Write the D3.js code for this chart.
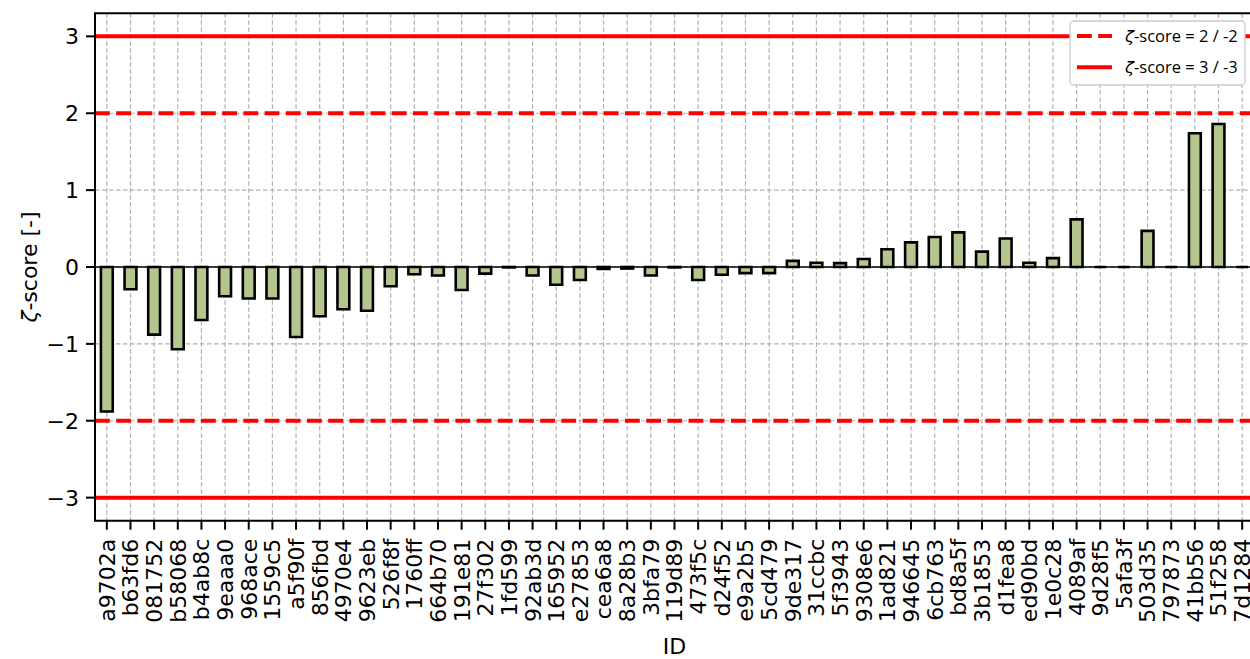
<!DOCTYPE html>
<html>
<head>
<meta charset="utf-8">
<script src="https://cdn.jsdelivr.net/npm/d3@7"></script>
<style>
  html, body { margin: 0; padding: 0; background: #fff; overflow: hidden; }
  svg { display: block; }
</style>
</head>
<body>
<svg id="chart" width="1250" height="659"></svg>
<script>
const ids = ["a9702a","b63fd6","081752","b58068","b4ab8c","9eaaa0","968ace","1559c5","a5f90f","856fbd",
  "4970e4","9623eb","526f8f","1760ff","664b70","191e81","27f302","1fd599","92ab3d","165952",
  "e27853","cea6a8","8a28b3","3bfa79","119d89","473f5c","d24f52","e9a2b5","5cd479","9de317",
  "31ccbc","5f3943","9308e6","1ad821","946645","6cb763","bd8a5f","3b1853","d1fea8","ed90bd",
  "1e0c28","4089af","9d28f5","5afa3f","503d35","797873","41bb56","51f258","7d1284"];
const zscores = [-1.88,-0.29,-0.88,-1.07,-0.69,-0.38,-0.41,-0.41,-0.91,-0.64,
  -0.55,-0.57,-0.25,-0.095,-0.11,-0.30,-0.086,-0.005,-0.11,-0.23,
  -0.17,-0.025,-0.02,-0.11,-0.005,-0.17,-0.10,-0.08,-0.08,0.08,
  0.055,0.05,0.105,0.23,0.32,0.39,0.45,0.20,0.37,0.055,
  0.115,0.62,0,0,0.47,0,1.74,1.86,0];
const yTicks = [-3,-2,-1,0,1,2,3];
const limitLines = [
  {value: 2, dashed: true}, {value: -2, dashed: true},
  {value: 3, dashed: false}, {value: -3, dashed: false}
];
const legendItems = [
  {label: " = 2 / -2", dashed: true},
  {label: " = 3 / -3", dashed: false}
];

const svg = d3.select("#chart");
const L = 95, R = 1254, T = 13.3, B = 520.7;

const x = d3.scaleBand().domain(ids).range([L, R]).padding(0);
const y = d3.scaleLinear().domain([-3.3, 3.3]).range([B, T]);
const bw = x.bandwidth();
const cx = d => x(d) + bw / 2;

svg.append("rect").attr("width", 1250).attr("height", 659).attr("fill", "#fff");

// grid
const grid = svg.append("g").attr("stroke", "#b0b0b0").attr("stroke-width", 1.2)
  .attr("stroke-dasharray", "4.5,2.5");
grid.selectAll(".gx").data(ids).enter().append("line")
  .attr("x1", d => cx(d)).attr("x2", d => cx(d)).attr("y1", T).attr("y2", B);
grid.selectAll(".gy").data(yTicks).enter().append("line")
  .attr("x1", L).attr("x2", R).attr("y1", d => y(d)).attr("y2", d => y(d));

// zero line
svg.append("line").attr("x1", L).attr("x2", R).attr("y1", y(0)).attr("y2", y(0))
  .attr("stroke", "#000").attr("stroke-width", 1.5);

// bars
svg.append("g").selectAll("path").data(ids).enter().append("path")
  .attr("d", (d, i) => {
    const x0 = cx(d) - bw / 4, x1 = cx(d) + bw / 4;
    const y0 = y(0), y1 = y(zscores[i]);
    return `M${x0},${y0}H${x1}V${y1}H${x0}Z`;
  })
  .attr("fill", "#b4c68e").attr("stroke", "#000").attr("stroke-width", 2.6)
  .attr("stroke-linejoin", "miter");

// limit lines
svg.append("g").selectAll("line").data(limitLines).enter().append("line")
  .attr("x1", L).attr("x2", R).attr("y1", d => y(d.value)).attr("y2", d => y(d.value))
  .attr("stroke", "#ff0000").attr("stroke-width", 4)
  .attr("stroke-dasharray", d => d.dashed ? "14.8,6.4" : null);

// spines
const sp = svg.append("g").attr("stroke", "#000").attr("stroke-width", 2).attr("fill", "none");
sp.append("path").attr("d", `M${R},${T}H${L}V${B}H${R}`).attr("stroke-linecap", "square");

// y axis ticks
const fontMain = "'DejaVu Sans', sans-serif";
const yAx = svg.append("g");
yAx.selectAll("line").data(yTicks).enter().append("line")
  .attr("x1", L - 9).attr("x2", L).attr("y1", d => y(d)).attr("y2", d => y(d))
  .attr("stroke", "#000").attr("stroke-width", 2);
yAx.selectAll("text").data(yTicks).enter().append("text")
  .attr("x", L - 16).attr("y", d => y(d)).attr("dy", "0.36em")
  .attr("text-anchor", "end").attr("font-family", fontMain).attr("font-size", 22)
  .text(d => d < 0 ? "\u2212" + Math.abs(d) : String(d));

// x axis ticks
const xAx = svg.append("g");
xAx.selectAll("line").data(ids).enter().append("line")
  .attr("x1", d => cx(d)).attr("x2", d => cx(d)).attr("y1", B).attr("y2", B + 9)
  .attr("stroke", "#000").attr("stroke-width", 2);
xAx.selectAll("text").data(ids).enter().append("text")
  .attr("transform", d => `translate(${cx(d)},${B + 18}) rotate(-90)`)
  .attr("dy", "0.36em").attr("text-anchor", "end")
  .attr("font-family", fontMain).attr("font-size", 22)
  .text(d => d);

// axis labels
svg.append("text").attr("x", (L + R) / 2).attr("y", 654).attr("text-anchor", "middle")
  .attr("font-family", fontMain).attr("font-size", 22).text("ID");
const yl = svg.append("text").attr("transform", `translate(37,${y(0)}) rotate(-90)`)
  .attr("text-anchor", "middle").attr("font-family", fontMain).attr("font-size", 22);
yl.append("tspan").attr("font-style", "italic").text("\u03B6");
yl.append("tspan").text("-score [-]");

// legend
const lg = svg.append("g");
lg.append("rect").attr("x", 1070).attr("y", 21).attr("width", 175).attr("height", 64)
  .attr("rx", 4).attr("fill", "#fff").attr("stroke", "#cccccc").attr("stroke-width", 1.3);
const li = lg.selectAll("g").data(legendItems).enter().append("g")
  .attr("transform", (d, i) => `translate(0,${36 + i * 31.3})`);
li.append("line").attr("x1", 1077).attr("x2", 1112).attr("y1", 0).attr("y2", 0)
  .attr("stroke", "#ff0000").attr("stroke-width", 4)
  .attr("stroke-dasharray", d => d.dashed ? "14.8,6.4" : null);
const lt = li.append("text").attr("x", 1125).attr("y", 0).attr("dy", "0.36em")
  .attr("font-family", "'Open Sans', sans-serif").attr("font-size", 16.5);
lt.append("tspan").attr("font-style", "italic").attr("font-family", "'DejaVu Sans', sans-serif").text("\u03B6");
lt.append("tspan").text(d => "-score" + d.label);
</script>
</body>
</html>
